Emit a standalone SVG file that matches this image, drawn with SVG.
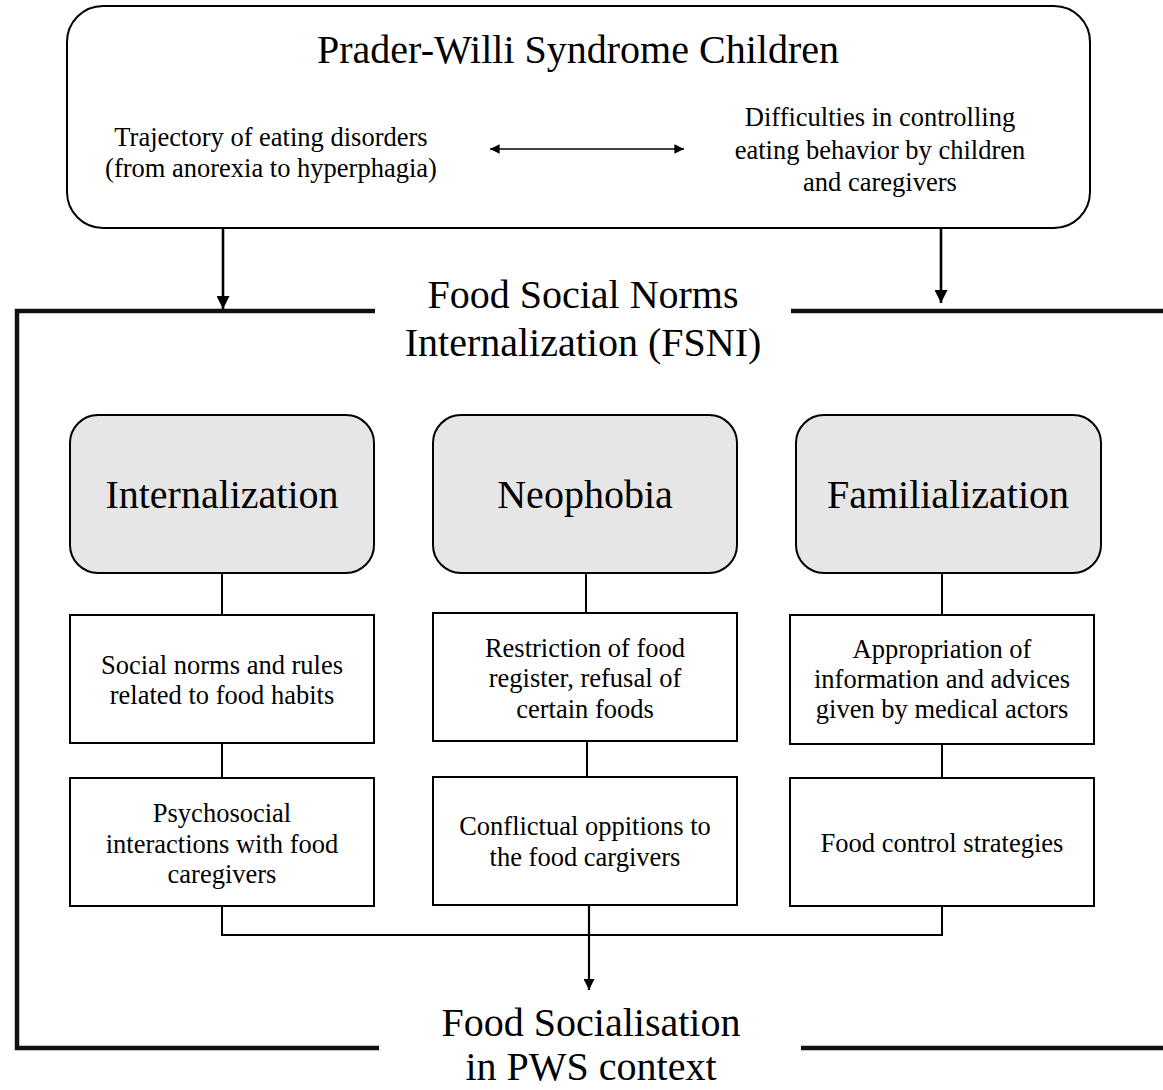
<svg xmlns="http://www.w3.org/2000/svg" width="1163" height="1090" viewBox="0 0 1163 1090">
<style>
text{font-family:"Liberation Serif","Times New Roman",serif;fill:#000;text-anchor:middle}
.big{font-size:40px}
.sm{font-size:26.5px}
.box{fill:#fff;stroke:#000;stroke-width:2}
.gray{fill:#e6e6e6;stroke:#000;stroke-width:2}
.ln{stroke:#000;stroke-width:2;fill:none}
.frame{stroke:#111;stroke-width:4.5;fill:none}
</style>
<defs>
<marker id="ah" viewBox="0 0 10 10" refX="10" refY="5" markerWidth="5" markerHeight="5" markerUnits="strokeWidth" orient="auto"><path d="M0,0 L10,5 L0,10 z" fill="#000"/></marker>
<marker id="ahs" viewBox="0 0 10 10" refX="10" refY="5" markerWidth="6" markerHeight="6" markerUnits="strokeWidth" orient="auto-start-reverse"><path d="M0,0 L10,5 L0,10 z" fill="#000"/></marker>
</defs>
<rect width="1163" height="1090" fill="#fff"/>

<g id="frame">
<path class="frame" d="M375,311 H17 V1048 H379"/>
<path class="frame" d="M791,311 H1163"/>
<path class="frame" d="M801,1048 H1163"/>
<text class="big" x="583" y="308">Food Social Norms</text>
<text class="big" x="583" y="356">Internalization (FSNI)</text>
</g>

<g id="pws">
<rect class="box" x="67" y="6" width="1023" height="222" rx="36"/>
<text class="big" x="578" y="63">Prader-Willi Syndrome Children</text>
<text class="sm" x="271" y="146">Trajectory of eating disorders</text>
<text class="sm" x="271" y="177">(from anorexia to hyperphagia)</text>
<text class="sm" x="880" y="126">Difficulties in controlling</text>
<text class="sm" x="880" y="158.5">eating behavior by children</text>
<text class="sm" x="880" y="191">and caregivers</text>
</g>

<g id="internalization">
<rect class="gray" x="70" y="415" width="304" height="158" rx="28"/>
<text class="big" x="222" y="508">Internalization</text>
</g>
<g id="neophobia">
<rect class="gray" x="433" y="415" width="304" height="158" rx="28"/>
<text class="big" x="585" y="508">Neophobia</text>
</g>
<g id="familialization">
<rect class="gray" x="796" y="415" width="305" height="158" rx="28"/>
<text class="big" x="948" y="508">Familialization</text>
</g>

<g id="social-norms">
<rect class="box" x="70" y="615" width="304" height="128"/>
<text class="sm" x="222" y="674">Social norms and rules</text>
<text class="sm" x="222" y="704">related to food habits</text>
</g>
<g id="psychosocial">
<rect class="box" x="70" y="778" width="304" height="128"/>
<text class="sm" x="222" y="822">Psychosocial</text>
<text class="sm" x="222" y="852.5">interactions with food</text>
<text class="sm" x="222" y="883">caregivers</text>
</g>
<g id="restriction">
<rect class="box" x="433" y="613" width="304" height="128"/>
<text class="sm" x="585" y="657">Restriction of food</text>
<text class="sm" x="585" y="687">register, refusal of</text>
<text class="sm" x="585" y="718">certain foods</text>
</g>
<g id="conflictual">
<rect class="box" x="433" y="777" width="304" height="128"/>
<text class="sm" x="585" y="835">Conflictual oppitions to</text>
<text class="sm" x="585" y="866">the food cargivers</text>
</g>
<g id="appropriation">
<rect class="box" x="790" y="615" width="304" height="129"/>
<text class="sm" x="942" y="658">Appropriation of</text>
<text class="sm" x="942" y="688">information and advices</text>
<text class="sm" x="942" y="718">given by medical actors</text>
</g>
<g id="food-control">
<rect class="box" x="790" y="778" width="304" height="128"/>
<text class="sm" x="942" y="852">Food control strategies</text>
</g>

<g id="outcome">
<text class="big" x="591" y="1036">Food Socialisation</text>
<text class="big" x="591" y="1080">in PWS context</text>
</g>

<g id="connectors">
<line class="ln" x1="490" y1="149" x2="684" y2="149" marker-start="url(#ahs)" marker-end="url(#ahs)" style="stroke-width:1.6"/>
<line class="ln" x1="223" y1="229" x2="223" y2="309" style="stroke-width:2.6" marker-end="url(#ah)"/>
<line class="ln" x1="941" y1="229" x2="941" y2="303" style="stroke-width:2.6" marker-end="url(#ah)"/>
<line class="ln" x1="222" y1="573" x2="222" y2="615"/>
<line class="ln" x1="586" y1="573" x2="586" y2="613"/>
<line class="ln" x1="942" y1="573" x2="942" y2="615"/>
<line class="ln" x1="222" y1="743" x2="222" y2="778"/>
<line class="ln" x1="587" y1="741" x2="587" y2="777"/>
<line class="ln" x1="942" y1="744" x2="942" y2="778"/>
<path class="ln" d="M222,906 V935 H942 V906"/>
<line class="ln" x1="589" y1="905" x2="589" y2="990" marker-end="url(#ah)" style="stroke-width:2.2"/>
</g>
</svg>
